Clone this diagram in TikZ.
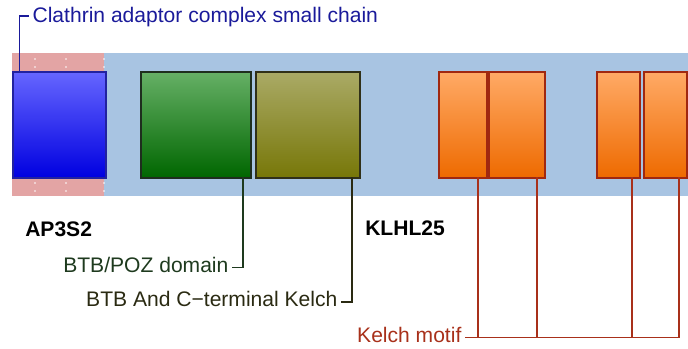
\documentclass[tikz,border=0pt]{standalone}
\usepackage{fontspec}
\setmainfont{Liberation Sans}
\definecolor{bandblue}{HTML}{A8C4E2}
\definecolor{pinkc}{HTML}{E3A4A4}
\definecolor{apTop}{HTML}{6666FF}
\definecolor{apBot}{HTML}{0000E0}
\definecolor{apDraw}{HTML}{2222A0}
\definecolor{gTop}{HTML}{66B066}
\definecolor{gBot}{HTML}{006600}
\definecolor{gDraw}{HTML}{1E2E1E}
\definecolor{oTop}{HTML}{AAAA66}
\definecolor{oBot}{HTML}{777708}
\definecolor{oDraw}{HTML}{303018}
\definecolor{kTop}{HTML}{FFAA66}
\definecolor{kBot}{HTML}{EE6A00}
\definecolor{kDraw}{HTML}{A02810}
\definecolor{clcol}{HTML}{1A1A9A}
\definecolor{gcol}{HTML}{1E3A1E}
\definecolor{ocol}{HTML}{2A2A12}
\definecolor{kcol}{HTML}{A8301A}
\begin{document}
\begin{tikzpicture}[x=0.75pt,y=-0.75pt,
  font=\fontsize{15.8}{19}\selectfont,
  domainbox/.style={inner sep=0pt, anchor=north west, line width=1.2pt, minimum height=106*0.75pt},
  lbl/.style={inner ysep=0pt, inner xsep=2.5pt, text height=0.716em, text depth=0pt},
  conn/.style={line width=1.4pt},
  gene/.style={inner sep=0pt, text height=0.716em, text depth=0pt, font=\fontsize{15.8}{19}\selectfont\bfseries, anchor=west}]
\useasboundingbox (0,0) rectangle (688,349);
% background band
\fill[bandblue] (12,53) rectangle (688,196);
\fill[pinkc] (12,53) rectangle (104,196);
\foreach \x in {35,66,104} \foreach \y in {59,67,183,191} \fill[white] (\x,\y) circle (0.6pt);
% domain boxes
\node[domainbox, draw=apDraw, top color=apTop, bottom color=apBot, minimum width=93*0.75pt] (ap) at (12,71) {};
\node[domainbox, draw=gDraw, top color=gTop, bottom color=gBot, minimum width=110*0.75pt] (btb) at (140,71) {};
\node[domainbox, draw=oDraw, top color=oTop, bottom color=oBot, minimum width=104*0.75pt] (back) at (255,71) {};
\node[domainbox, draw=kDraw, top color=kTop, bottom color=kBot, minimum width=48*0.75pt] (k1) at (438,71) {};
\node[domainbox, draw=kDraw, top color=kTop, bottom color=kBot, minimum width=56*0.75pt] (k2) at (488,71) {};
\node[domainbox, draw=kDraw, top color=kTop, bottom color=kBot, minimum width=43*0.75pt] (k3) at (596,71) {};
\node[domainbox, draw=kDraw, top color=kTop, bottom color=kBot, minimum width=43*0.75pt] (k4) at (643,71) {};
% gene names
\node[gene] (g1) at (25,232) {AP3S2};
\node[gene] (g2) at (365,230.5) {KLHL25};
% labels
\node[lbl, anchor=west, text=clcol] (clt) at (29,17.5) {Clathrin adaptor complex small chain};
\node[lbl, anchor=east, text=gcol] (btbt) at (232,267.5) {BTB/POZ domain};
\node[lbl, anchor=east, text=ocol] (backt) at (341,302) {BTB And C\textminus terminal Kelch};
\node[lbl, anchor=east, text=kcol] (kelt) at (465,337.5) {Kelch motif};
% connector anchors
\coordinate (apT) at (19.5,71);
\coordinate (gB) at (243,177);
\coordinate (oB) at (352,177);
\coordinate (m1) at (478,177);
\coordinate (m2) at (537,177);
\coordinate (m3) at (632,177);
\coordinate (m4) at (679,177);
% connectors
\draw[conn, clcol] (apT) |- ([yshift=1.2pt]clt.west);
\draw[conn, gcol] (btbt.east) -| (gB);
\draw[conn, ocol] (backt.east) -| (oB);
\draw[conn, kcol] (kelt.east) -| (m4);
\foreach \m in {m1,m2,m3} \draw[conn, kcol] (\m) -- (\m |- kelt.east);
\end{tikzpicture}
\end{document}
